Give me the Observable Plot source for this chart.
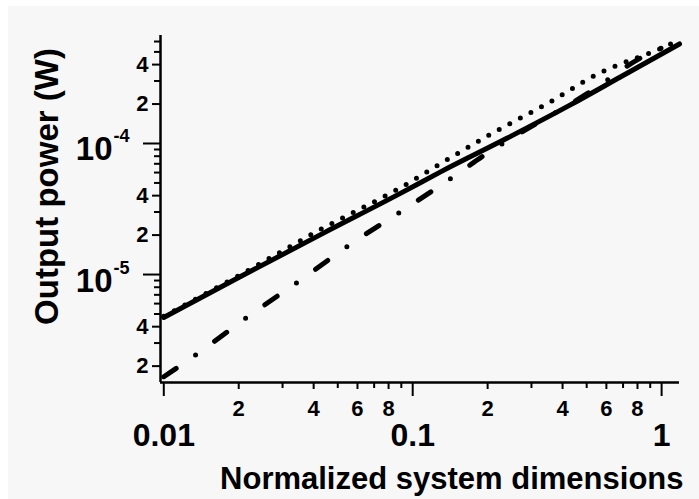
<!DOCTYPE html>
<html>
<head>
<meta charset="utf-8">
<script src="https://cdn.jsdelivr.net/npm/d3@7"></script>
<script src="https://cdn.jsdelivr.net/npm/@observablehq/plot@0.6"></script>
<style>
  html, body { margin: 0; padding: 0; background: #ffffff; }
  #chart svg { display: block; box-shadow: inset 8px 6px 0 #ffffff; }
</style>
</head>
<body>
<div id="chart"></div>
<script>
// ---- data ----
const xSolid = [0.01, 0.02, 0.044, 0.09, 0.13, 0.24, 0.43, 0.68, 1.18];
const ySolid = [4.7e-6, 9.5e-6, 2.08e-5, 4.2e-5, 6.1e-5, 1.1e-4, 1.97e-4, 3.2e-4, 5.75e-4];

const xDotted = [0.01, 0.02, 0.044, 0.088, 0.142, 0.211, 0.348, 0.569, 0.684, 0.92, 1.18];
const yDotted = [4.8e-6, 9.8e-6, 2.28e-5, 4.53e-5, 7.8e-5, 1.21e-4, 2.02e-4, 3.48e-4, 4.05e-4, 5.0e-4, 6.2e-4];

const xDashDot = [0.01, 0.0137, 0.0221, 0.0358, 0.0574, 0.0938, 0.152, 0.193, 0.236, 0.519, 0.824, 1.18];
const yDashDot = [1.66e-6, 2.5e-6, 4.87e-6, 9.2e-6, 1.75e-5, 3.2e-5, 5.9e-5, 8.1e-5, 1.03e-4, 2.5e-4, 4.5e-4, 6.1e-4];

const xMajor = [0.01, 0.1, 1];
const xMajorLabels = ["0.01", "0.1", "1"];
const xMinorLabeled = [0.02, 0.04, 0.06, 0.08, 0.2, 0.4, 0.6, 0.8];
const xMinorLabels = ["2", "4", "6", "8", "2", "4", "6", "8"];
const xMinor = [0.03, 0.05, 0.07, 0.09, 0.3, 0.5, 0.7, 0.9];

const yMajor = [1e-5, 1e-4];
const yMajorBase = ["10", "10"];
const yMajorExp = ["-5", "-4"];
const yMinorLabeled = [2e-6, 4e-6, 2e-5, 4e-5, 2e-4, 4e-4];
const yMinorLabels = ["2", "4", "2", "4", "2", "4"];
const yMinor = [3e-6, 5e-6, 6e-6, 7e-6, 8e-6, 9e-6, 3e-5, 5e-5, 6e-5, 7e-5, 8e-5, 9e-5, 3e-4, 5e-4, 6e-4];

const xTitle = ["Normalized system dimensions"];
const yTitle = ["Output power (W)"];

const xDomain = [0.0097, 1.18];
const yDomain = [1.5e-6, 6.67e-4];

// ---- build tables ----
const toRows = (xs, ys) => xs.map((x, i) => ({x, y: ys[i]}));
const solid = toRows(xSolid, ySolid);
const dotted = toRows(xDotted, yDotted);
const dashDot = toRows(xDashDot, yDashDot);

const ink = "#000";
const font = "'Liberation Sans', Arial, sans-serif";
const bold = {fontWeight: "bold", fill: ink, fontFamily: font};

const chart = Plot.plot({
  width: 699,
  height: 499,
  marginLeft: 160,
  marginRight: 20,
  marginTop: 35,
  marginBottom: 117,
  style: {background: "#f7f7f7", fontFamily: font, color: ink, overflow: "visible"},
  x: {type: "log", domain: xDomain, label: null},
  y: {type: "log", domain: yDomain, label: null},
  marks: [
    // axis lines
    Plot.ruleX([xDomain[0]], {stroke: ink, strokeWidth: 2.5}),
    Plot.ruleY([yDomain[0]], {stroke: ink, strokeWidth: 2.5}),
    // x ticks
    Plot.axisX(xMajor, {anchor: "bottom", label: null, tickSize: 14, tickFormat: () => "", strokeWidth: 2}),
    Plot.axisX(xMinorLabeled, {anchor: "bottom", label: null, tickSize: 7, tickFormat: () => "", strokeWidth: 2}),
    Plot.axisX(xMinor, {anchor: "bottom", label: null, tickSize: 6, tickFormat: () => "", strokeWidth: 2}),
    // x labels
    Plot.text(xMajor, {x: d => d, text: (d, i) => xMajorLabels[i], frameAnchor: "bottom", dy: 41,
      textAnchor: "middle", lineAnchor: "top", fontSize: 32, ...bold}),
    Plot.text(xMinorLabeled, {x: d => d, text: (d, i) => xMinorLabels[i], frameAnchor: "bottom", dy: 18,
      textAnchor: "middle", lineAnchor: "top", fontSize: 22, ...bold}),
    // y ticks
    Plot.axisY(yMajor, {anchor: "left", label: null, tickSize: 17, tickFormat: () => "", strokeWidth: 2}),
    Plot.axisY(yMinorLabeled, {anchor: "left", label: null, tickSize: 8, tickFormat: () => "", strokeWidth: 2}),
    Plot.axisY(yMinor, {anchor: "left", label: null, tickSize: 6, tickFormat: () => "", strokeWidth: 2}),
    // y labels
    Plot.text(yMinorLabeled, {y: d => d, text: (d, i) => yMinorLabels[i], frameAnchor: "left", dx: -12,
      textAnchor: "end", lineAnchor: "middle", fontSize: 22, ...bold}),
    Plot.text(yMajor, {y: d => d, text: (d, i) => yMajorBase[i], frameAnchor: "left", dx: -48, dy: 17,
      textAnchor: "end", lineAnchor: "bottom", fontSize: 33, ...bold}),
    Plot.text(yMajor, {y: d => d, text: (d, i) => yMajorExp[i], frameAnchor: "left", dx: -47, dy: -1,
      textAnchor: "start", lineAnchor: "bottom", fontSize: 18, ...bold}),
    // axis titles
    Plot.text(xTitle, {text: d => d, frameAnchor: "bottom-right", dx: 4, dy: 106,
      textAnchor: "end", lineAnchor: "bottom", fontSize: 31, ...bold}),
    Plot.text(yTitle, {text: d => d, frameAnchor: "left", dx: -113, dy: -22.5, rotate: -90,
      textAnchor: "middle", lineAnchor: "middle", fontSize: 33, ...bold}),
    // data lines
    Plot.line(solid, {x: "x", y: "y", stroke: ink, strokeWidth: 5, curve: "monotone-x"}),
    Plot.line(dotted, {x: "x", y: "y", stroke: ink, strokeWidth: 5, strokeDasharray: "0 12",
      strokeLinecap: "round", curve: "monotone-x"}),
    Plot.line(dashDot, {x: "x", y: "y", stroke: ink, strokeWidth: 5, strokeDasharray: "15 23.5 0 23.5",
      strokeLinecap: "round", curve: "monotone-x"})
  ]
});

document.getElementById("chart").appendChild(chart);
</script>
</body>
</html>
